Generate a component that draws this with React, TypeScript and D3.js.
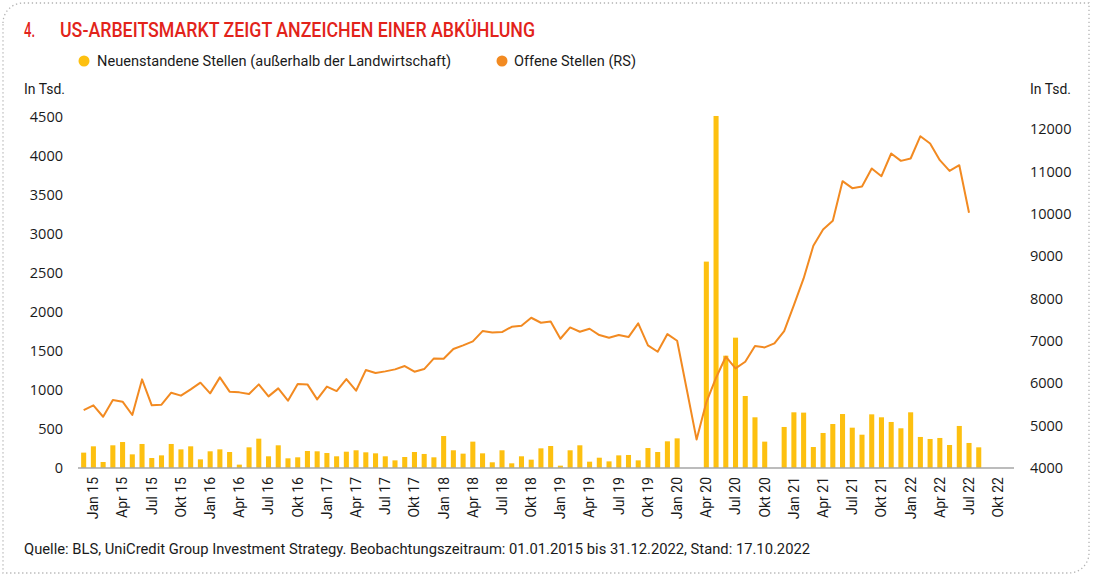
import React from "react";
import * as d3 from "d3";

// Months Jan 2015 .. Dec 2022 (axis domain)
const months: string[] = d3.range(96).map((i) => {
  const y = 2015 + Math.floor(i / 12);
  const m = (i % 12) + 1;
  return `${y}-${String(m).padStart(2, "0")}`;
});

// Nonfarm payroll change, in Tsd., Jan 2015 .. Sep 2022 (null = below axis, not visible)
const payrolls: (number | null)[] = [
  197, 278, 77, 291, 333, 175, 308, 128, 162, 308, 239, 278,
  111, 214, 239, 205, 43, 265, 376, 150, 291, 124, 137, 218,
  214, 192, 150, 209, 227, 201, 188, 150, 98, 141, 205, 180,
  137, 410, 227, 184, 338, 188, 73, 227, 60, 150, 107, 252,
  282, 30, 227, 291, 81, 132, 85, 162, 167, 98, 256, 205,
  342, 380, null, null, 2646, 4513, 1440, 1671, 923, 650, 338, null,
  526, 714, 710, 269, 449, 564, 692, 517, 427, 688, 650, 590,
  509, 714, 398, 372, 385, 295, 539, 321, 265,
];

// Job openings, in Tsd., Jan 2015 .. Aug 2022
const openings: number[] = [
  5368, 5478, 5210, 5604, 5565, 5250, 6091, 5478, 5494, 5777, 5707, 5856,
  6013, 5761, 6139, 5801, 5785, 5745, 5973, 5690, 5879, 5588, 5981, 5973,
  5620, 5920, 5816, 6099, 5824, 6311, 6241, 6280, 6327, 6406, 6272, 6335,
  6587, 6579, 6807, 6894, 6988, 7231, 7200, 7208, 7333, 7357, 7546, 7428,
  7459, 7050, 7318, 7215, 7286, 7137, 7074, 7137, 7090, 7412, 6894, 6743,
  7160, 7003, 5840, 4670, 5550, 6130, 6626, 6351, 6508, 6877, 6846, 6940,
  7231, 7844, 8473, 9244, 9629, 9833, 10769, 10604, 10643, 11068, 10887, 11422,
  11248, 11304, 11830, 11657, 11264, 11012, 11146, 10022,
];

const leftTicks: number[] = [0, 500, 1000, 1500, 2000, 2500, 3000, 3500, 4000, 4500];
const rightTicks: number[] = [4000, 5000, 6000, 7000, 8000, 9000, 10000, 11000, 12000];
const monthNames: string[] = ["Jan", "Apr", "Jul", "Okt"];

const title = "US-ARBEITSMARKT ZEIGT ANZEICHEN EINER ABKÜHLUNG";
const legendBars = "Neuenstandene Stellen (außerhalb der Landwirtschaft)";
const legendLine = "Offene Stellen (RS)";
const unitLabel = "In Tsd.";
const source =
  "Quelle: BLS, UniCredit Group Investment Strategy. Beobachtungszeitraum: 01.01.2015 bis 31.12.2022, Stand: 17.10.2022";

const BAR = "#FDC010";
const LINE = "#F28A21";
const RED = "#E2231A";
const TXT = "#1a1a1a";
const FONT = "Roboto, 'Noto Sans', sans-serif";
const NUMFONT = "'Open Sans', 'Noto Sans', sans-serif";

export default function App() {
  const W = 1093;
  const H = 577;

  const x = d3
    .scaleBand<string>()
    .domain(months)
    .range([78.8, 1012.8])
    .paddingInner(0.48)
    .paddingOuter(0.24);
  const cx = (i: number) => (x(months[i]) as number) + x.bandwidth() / 2;

  const yL = d3.scaleLinear().domain([0, 4500]).range([468, 117]);
  const yR = d3.scaleLinear().domain([4000, 12000]).range([468, 129]);

  const line = d3
    .line<number>()
    .x((_, i) => cx(i))
    .y((d) => yR(d));

  // quarterly labels Jan 15 .. Okt 22
  const labels: { text: string; idx: number }[] = [];
  for (let i = 0; i < 96; i += 3) {
    const yr = 15 + Math.floor(i / 12);
    labels.push({ text: `${monthNames[(i % 12) / 3]} ${yr}`, idx: i + 1 });
  }

  const border = `M3,23 A20,20 0 0 1 23,3 H1089 V553 A20,20 0 0 1 1069,573 H3 Z`;

  return (
    <div style={{ position: "absolute", left: 0, top: 0, width: W, height: H, background: "#fff" }}>
      <svg width={W} height={H} style={{ display: "block" }}>
        <rect x={0} y={0} width={W} height={H} fill="#fff" />
        <path d={border} fill="none" stroke="#b3b3b3" strokeWidth={1.3} strokeDasharray="1.3 2.7" />

        {/* Title */}
        <text x={24} y={37} fill={RED} fontFamily={FONT} fontSize={20} fontWeight={500} textLength={11} lengthAdjust="spacingAndGlyphs">4.</text>
        <text x={60} y={37} fill={RED} fontFamily={FONT} fontSize={20} fontWeight={500} textLength={475} lengthAdjust="spacingAndGlyphs">{title}</text>

        {/* Legend */}
        <circle cx={84} cy={61} r={5.5} fill={BAR} />
        <text x={97} y={66} fill={TXT} fontFamily={FONT} fontSize={14.5} textLength={354} lengthAdjust="spacingAndGlyphs">{legendBars}</text>
        <circle cx={502} cy={61} r={5.5} fill={LINE} />
        <text x={514} y={66} fill={TXT} fontFamily={FONT} fontSize={14.5} textLength={122} lengthAdjust="spacingAndGlyphs">{legendLine}</text>

        {/* Unit labels */}
        <text x={24} y={94} fill={TXT} fontFamily={FONT} fontSize={14.5} textLength={41} lengthAdjust="spacingAndGlyphs">{unitLabel}</text>
        <text x={1030} y={94} fill={TXT} fontFamily={FONT} fontSize={14.5} textLength={41} lengthAdjust="spacingAndGlyphs">{unitLabel}</text>

        {/* Left axis labels */}
        {leftTicks.map((t) => (
          <text key={`l${t}`} x={63} y={yL(t)} dy="0.36em" textAnchor="end" fill={TXT} fontFamily={NUMFONT} fontSize={14.5}>
            {t}
          </text>
        ))}
        {/* Right axis labels */}
        {rightTicks.map((t) => (
          <text key={`r${t}`} x={1030} y={yR(t)} dy="0.36em" textAnchor="start" fill={TXT} fontFamily={NUMFONT} fontSize={14.5}>
            {t}
          </text>
        ))}

        {/* Bars */}
        {payrolls.map((v, i) =>
          v !== null && v > 0 ? (
            <rect
              key={`b${i}`}
              x={x(months[i]) as number}
              y={yL(v)}
              width={x.bandwidth()}
              height={yL(0) - yL(v)}
              fill={BAR}
            />
          ) : null
        )}

        {/* Axis line */}
        <line x1={78} x2={1014} y1={yL(0)} y2={yL(0)} stroke="#a6a6a6" strokeWidth={1.5} />

        {/* Line */}
        <path d={line(openings) || ""} fill="none" stroke={LINE} strokeWidth={2} strokeLinejoin="round" />

        {/* X labels */}
        {labels.map((l) => {
          const px = cx(l.idx);
          return (
            <text
              key={l.text}
              transform={`translate(${px},477) rotate(-90)`}
              textAnchor="end"
              dy="0.35em"
              fill={TXT}
              fontFamily={FONT}
              fontSize={14}
            >
              {l.text}
            </text>
          );
        })}

        {/* Source */}
        <text x={24} y={554} fill={TXT} fontFamily={FONT} fontSize={14.5} textLength={786} lengthAdjust="spacingAndGlyphs">{source}</text>
      </svg>
    </div>
  );
}
